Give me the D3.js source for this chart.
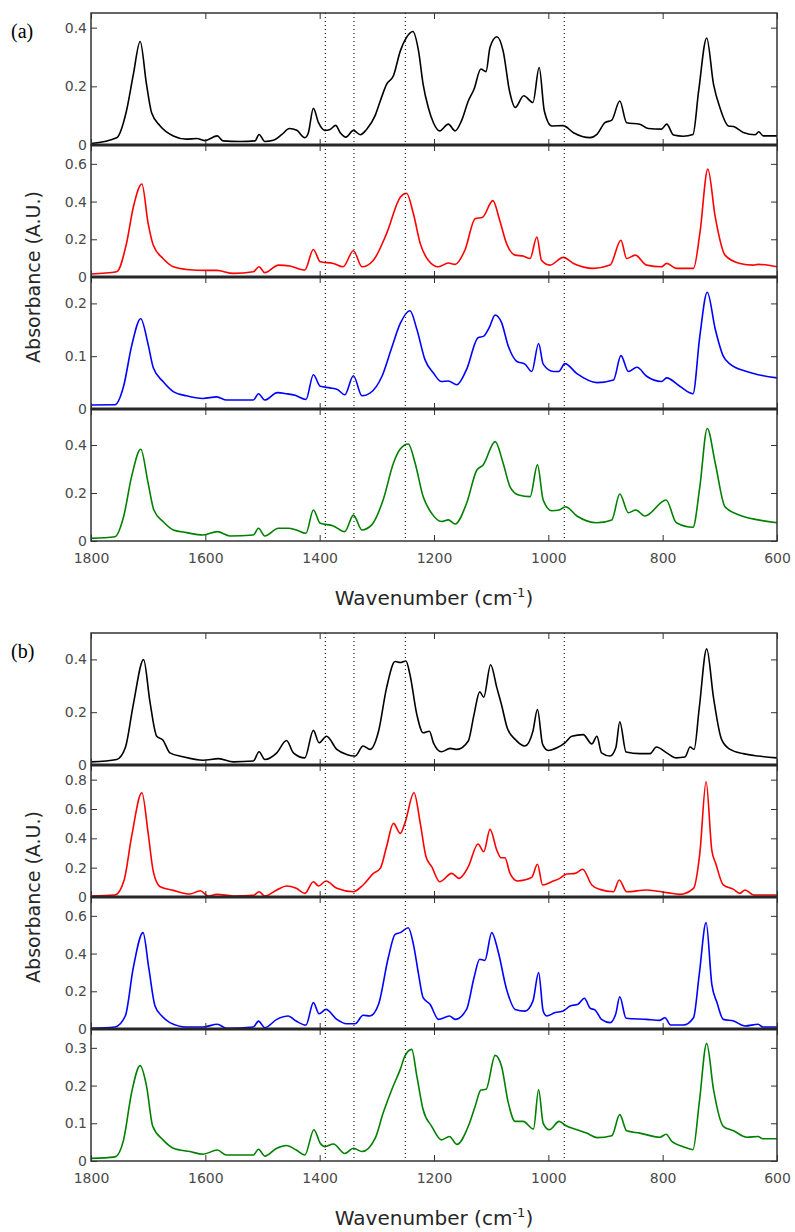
<!DOCTYPE html>
<html>
<head>
<meta charset="utf-8">
<script src="https://cdn.jsdelivr.net/npm/d3@7"></script>
<style>
  body { margin: 0; background: #fff; }
  svg { display: block; }
</style>
</head>
<body>
<script>
// x axis: wavenumber, reversed
const xTicks = [1800, 1600, 1400, 1200, 1000, 800, 600];
const markerLines = [1390, 1340, 1250, 972];
const seriesColors = ["#000000", "#ff0000", "#0000ff", "#008000"];

// panel (a) spectra, [wavenumber, absorbance]
const a1 = [[1800,0.005],[1755,0.025],[1738,0.116],[1726,0.24],[1714,0.353],[1703,0.208],[1694,0.11],[1679,0.065],[1656,0.031],[1633,0.02],[1615,0.022],[1601,0.015],[1579,0.031],[1569,0.014],[1539,0.012],[1513,0.014],[1506,0.036],[1496,0.012],[1481,0.016],[1466,0.036],[1453,0.056],[1440,0.05],[1426,0.025],[1420,0.04],[1411,0.125],[1402,0.076],[1391,0.05],[1382,0.053],[1372,0.067],[1364,0.042],[1354,0.027],[1341,0.05],[1329,0.035],[1318,0.053],[1303,0.1],[1294,0.15],[1283,0.207],[1271,0.236],[1259,0.32],[1248,0.367],[1237,0.387],[1227,0.32],[1219,0.207],[1210,0.128],[1201,0.076],[1190,0.048],[1175,0.071],[1163,0.048],[1152,0.082],[1140,0.15],[1130,0.19],[1118,0.259],[1109,0.25],[1102,0.333],[1090,0.369],[1079,0.32],[1068,0.185],[1058,0.128],[1043,0.168],[1027,0.145],[1016,0.264],[1007,0.116],[994,0.065],[974,0.066],[956,0.042],[927,0.025],[915,0.036],[901,0.076],[889,0.085],[875,0.15],[863,0.076],[840,0.071],[825,0.056],[802,0.054],[793,0.071],[781,0.034],[764,0.03],[747,0.036],[737,0.185],[723,0.365],[711,0.207],[700,0.128],[685,0.065],[676,0.063],[659,0.043],[638,0.035],[632,0.045],[624,0.031],[600,0.031]];
const a2 = [[1800,0.016],[1755,0.028],[1738,0.177],[1726,0.37],[1711,0.493],[1700,0.283],[1691,0.168],[1674,0.098],[1656,0.054],[1633,0.04],[1598,0.035],[1580,0.035],[1551,0.019],[1516,0.028],[1506,0.054],[1496,0.023],[1472,0.063],[1452,0.058],[1426,0.037],[1411,0.146],[1399,0.081],[1376,0.072],[1359,0.054],[1341,0.139],[1326,0.054],[1306,0.089],[1283,0.23],[1259,0.423],[1248,0.444],[1236,0.335],[1224,0.177],[1210,0.089],[1192,0.054],[1175,0.074],[1163,0.067],[1146,0.142],[1128,0.309],[1115,0.317],[1097,0.405],[1085,0.3],[1073,0.177],[1058,0.116],[1044,0.111],[1032,0.098],[1020,0.212],[1012,0.089],[997,0.063],[974,0.104],[956,0.072],[921,0.046],[892,0.063],[873,0.195],[863,0.098],[848,0.116],[828,0.063],[802,0.054],[793,0.072],[776,0.046],[746,0.046],[735,0.23],[721,0.572],[708,0.317],[691,0.116],[665,0.072],[641,0.063],[633,0.067],[600,0.054]];
const a3 = [[1800,0.0076],[1758,0.008],[1743,0.043],[1729,0.119],[1713,0.171],[1700,0.122],[1691,0.078],[1674,0.052],[1656,0.033],[1633,0.025],[1604,0.02],[1580,0.023],[1563,0.017],[1516,0.017],[1507,0.029],[1496,0.017],[1474,0.031],[1458,0.029],[1443,0.026],[1424,0.018],[1411,0.065],[1399,0.043],[1382,0.04],[1369,0.037],[1356,0.027],[1341,0.063],[1326,0.025],[1312,0.03],[1291,0.062],[1274,0.116],[1259,0.162],[1242,0.186],[1230,0.151],[1216,0.094],[1201,0.068],[1187,0.052],[1175,0.053],[1160,0.046],[1143,0.075],[1123,0.135],[1113,0.138],[1103,0.155],[1093,0.178],[1082,0.164],[1070,0.119],[1055,0.09],[1041,0.085],[1029,0.071],[1017,0.124],[1009,0.085],[991,0.071],[982,0.071],[971,0.086],[950,0.067],[915,0.05],[886,0.055],[873,0.101],[860,0.071],[845,0.079],[828,0.062],[802,0.052],[793,0.059],[770,0.043],[747,0.029],[735,0.138],[722,0.221],[708,0.151],[694,0.1],[682,0.085],[653,0.071],[633,0.065],[600,0.059]];
const a4 = [[1800,0.011],[1758,0.018],[1743,0.101],[1729,0.268],[1713,0.382],[1700,0.24],[1690,0.129],[1674,0.081],[1656,0.046],[1633,0.035],[1604,0.025],[1579,0.039],[1557,0.021],[1516,0.025],[1507,0.053],[1496,0.021],[1472,0.053],[1455,0.053],[1441,0.046],[1424,0.032],[1411,0.129],[1399,0.074],[1376,0.063],[1356,0.039],[1341,0.108],[1326,0.046],[1309,0.067],[1289,0.171],[1271,0.324],[1259,0.383],[1245,0.404],[1233,0.324],[1219,0.185],[1204,0.115],[1187,0.081],[1175,0.088],[1163,0.071],[1143,0.157],[1125,0.296],[1114,0.317],[1093,0.414],[1079,0.324],[1067,0.226],[1052,0.192],[1032,0.185],[1019,0.317],[1009,0.171],[994,0.126],[981,0.129],[970,0.143],[950,0.104],[915,0.076],[889,0.088],[875,0.196],[860,0.118],[847,0.129],[831,0.104],[794,0.171],[776,0.076],[747,0.057],[735,0.226],[722,0.469],[708,0.324],[691,0.143],[665,0.107],[633,0.088],[600,0.076]];

// panel (b) spectra
const b1 = [[1800,0.012],[1755,0.021],[1740,0.065],[1726,0.229],[1708,0.399],[1697,0.241],[1685,0.109],[1674,0.094],[1662,0.046],[1639,0.031],[1604,0.018],[1577,0.024],[1551,0.012],[1516,0.015],[1506,0.05],[1496,0.021],[1475,0.046],[1458,0.093],[1446,0.046],[1426,0.027],[1411,0.131],[1401,0.084],[1388,0.109],[1370,0.059],[1353,0.04],[1338,0.034],[1324,0.072],[1312,0.059],[1297,0.128],[1283,0.292],[1268,0.392],[1259,0.388],[1249,0.394],[1242,0.342],[1230,0.191],[1219,0.122],[1208,0.128],[1201,0.084],[1187,0.05],[1172,0.063],[1160,0.059],[1140,0.091],[1130,0.191],[1120,0.277],[1113,0.257],[1101,0.38],[1090,0.292],[1082,0.229],[1072,0.141],[1058,0.097],[1041,0.072],[1027,0.128],[1019,0.21],[1010,0.078],[1000,0.055],[985,0.065],[971,0.084],[959,0.109],[939,0.115],[924,0.08],[915,0.109],[907,0.046],[892,0.034],[882,0.065],[875,0.164],[864,0.049],[840,0.043],[822,0.043],[811,0.068],[793,0.046],[776,0.027],[761,0.03],[752,0.068],[745,0.059],[736,0.216],[723,0.44],[711,0.254],[697,0.097],[682,0.059],[659,0.043],[633,0.034],[600,0.027]];
const b2 = [[1800,0.007],[1758,0.014],[1742,0.116],[1729,0.411],[1711,0.711],[1700,0.434],[1691,0.173],[1679,0.07],[1656,0.045],[1627,0.02],[1609,0.043],[1595,0.007],[1580,0.018],[1551,0.007],[1516,0.011],[1506,0.036],[1496,0.007],[1475,0.048],[1458,0.075],[1441,0.059],[1426,0.025],[1411,0.104],[1402,0.075],[1389,0.109],[1370,0.059],[1341,0.036],[1324,0.082],[1306,0.161],[1294,0.195],[1283,0.343],[1271,0.502],[1259,0.434],[1251,0.502],[1235,0.711],[1224,0.502],[1214,0.275],[1204,0.207],[1190,0.104],[1169,0.161],[1156,0.127],[1140,0.207],[1123,0.361],[1113,0.309],[1102,0.461],[1090,0.318],[1083,0.268],[1076,0.268],[1067,0.161],[1054,0.109],[1029,0.134],[1019,0.223],[1010,0.082],[994,0.104],[980,0.127],[968,0.157],[953,0.161],[940,0.189],[924,0.082],[910,0.052],[886,0.036],[876,0.116],[863,0.036],[828,0.048],[793,0.03],[770,0.018],[746,0.059],[735,0.298],[724,0.786],[714,0.318],[707,0.227],[694,0.082],[676,0.052],[665,0.025],[656,0.048],[641,0.014],[600,0.014]];
const b3 = [[1800,0.004],[1758,0.011],[1740,0.069],[1726,0.325],[1709,0.511],[1699,0.325],[1688,0.122],[1676,0.069],[1662,0.034],[1633,0.011],[1604,0.011],[1579,0.025],[1563,0.004],[1516,0.011],[1507,0.042],[1496,0.007],[1475,0.051],[1455,0.069],[1441,0.042],[1424,0.021],[1411,0.14],[1401,0.081],[1389,0.104],[1370,0.051],[1353,0.028],[1338,0.028],[1324,0.073],[1312,0.069],[1297,0.131],[1280,0.378],[1268,0.502],[1259,0.511],[1245,0.537],[1236,0.449],[1227,0.29],[1219,0.166],[1207,0.131],[1192,0.051],[1173,0.069],[1163,0.051],[1143,0.104],[1130,0.272],[1120,0.37],[1111,0.364],[1099,0.511],[1088,0.414],[1073,0.21],[1058,0.104],[1041,0.095],[1027,0.148],[1017,0.299],[1009,0.095],[1003,0.069],[988,0.087],[974,0.095],[962,0.122],[948,0.131],[937,0.163],[927,0.111],[918,0.1],[907,0.051],[892,0.034],[882,0.081],[875,0.171],[864,0.057],[828,0.051],[805,0.046],[796,0.06],[786,0.021],[764,0.021],[746,0.06],[736,0.29],[724,0.564],[714,0.237],[705,0.14],[694,0.051],[676,0.042],[656,0.016],[633,0.025],[625,0.011],[600,0.011]];
const b4 = [[1800,0.007],[1758,0.011],[1743,0.056],[1729,0.181],[1714,0.253],[1703,0.2],[1692,0.092],[1674,0.056],[1656,0.034],[1627,0.025],[1604,0.018],[1579,0.029],[1563,0.016],[1516,0.016],[1507,0.031],[1496,0.013],[1475,0.034],[1458,0.041],[1441,0.029],[1426,0.016],[1410,0.083],[1399,0.047],[1391,0.038],[1376,0.045],[1356,0.02],[1341,0.034],[1326,0.025],[1303,0.06],[1289,0.127],[1271,0.2],[1259,0.243],[1251,0.278],[1239,0.296],[1230,0.225],[1219,0.136],[1204,0.092],[1187,0.056],[1173,0.065],[1160,0.044],[1140,0.092],[1128,0.145],[1118,0.188],[1109,0.19],[1093,0.28],[1082,0.252],[1070,0.154],[1058,0.105],[1044,0.105],[1026,0.085],[1017,0.189],[1009,0.1],[998,0.083],[981,0.105],[970,0.094],[950,0.083],[933,0.074],[915,0.062],[889,0.067],[875,0.123],[863,0.08],[840,0.074],[805,0.063],[794,0.071],[784,0.052],[764,0.038],[747,0.03],[736,0.154],[723,0.312],[711,0.189],[694,0.092],[676,0.08],[653,0.063],[633,0.065],[625,0.059],[600,0.059]];

// y ranges and tick labels for each subplot
const yMaxA = [0.45, 0.7, 0.25, 0.55];
const yTicksA = [[0, 0.2, 0.4], [0, 0.2, 0.4, 0.6], [0, 0.1, 0.2], [0, 0.2, 0.4]];
const yMaxB = [0.5, 0.9, 0.7, 0.35];
const yTicksB = [[0, 0.2, 0.4], [0, 0.2, 0.4, 0.6, 0.8], [0, 0.2, 0.4, 0.6], [0, 0.1, 0.2, 0.3]];

const W = 795, H = 1232;
const plotLeft = 91, plotRight = 777, subH = 132, tick = 6;
const sans = "'DejaVu Sans', sans-serif";

const svg = d3.select("body").append("svg")
    .attr("width", W)
    .attr("height", H);

const x = d3.scaleLinear().domain([1800, 600]).range([plotLeft, plotRight]);
const line = d3.line().curve(d3.curveMonotoneX);

const panels = [
    {label: "(a)", top: 13, series: [a1, a2, a3, a4], yMax: yMaxA, yTicks: yTicksA},
    {label: "(b)", top: 633, series: [b1, b2, b3, b4], yMax: yMaxB, yTicks: yTicksB}
];

function styleAxis(ax) {
    ax.select(".domain").remove();
    ax.selectAll(".tick line").attr("stroke", "#333").attr("stroke-width", 1);
    ax.selectAll(".tick text")
        .attr("fill", "#4a4a4a")
        .style("font-family", sans)
        .style("font-size", "14px");
}

panels.forEach(p => {
    const g = svg.append("g");
    const bottom = p.top + 4 * subH;

    p.series.forEach((data, i) => {
        const y0 = p.top + i * subH;
        const y = d3.scaleLinear().domain([0, p.yMax[i]]).range([y0 + subH, y0]);

        g.append("path")
            .datum(data)
            .attr("fill", "none")
            .attr("stroke", seriesColors[i])
            .attr("stroke-width", 1.6)
            .attr("stroke-linejoin", "round")
            .attr("d", line.x(d => x(d[0])).y(d => y(d[1])));

        g.append("g")
            .attr("transform", `translate(${plotLeft},0)`)
            .call(d3.axisLeft(y).tickValues(p.yTicks[i]).tickSizeInner(-tick).tickSizeOuter(0)
                .tickPadding(4).tickFormat(d => String(d)))
            .call(styleAxis);

        g.append("g")
            .attr("transform", `translate(${plotRight},0)`)
            .call(d3.axisRight(y).tickValues(p.yTicks[i]).tickSizeInner(-tick).tickSizeOuter(0).tickFormat(""))
            .call(styleAxis);

        g.append("g")
            .attr("transform", `translate(0,${y0})`)
            .call(d3.axisTop(x).tickValues(xTicks).tickSizeInner(-tick).tickSizeOuter(0).tickFormat(""))
            .call(styleAxis);

        const last = i === 3;
        g.append("g")
            .attr("transform", `translate(0,${y0 + subH})`)
            .call(d3.axisBottom(x).tickValues(xTicks).tickSizeInner(-tick).tickSizeOuter(0)
                .tickPadding(12).tickFormat(last ? d => String(d) : ""))
            .call(styleAxis);

        g.append("rect")
            .attr("x", plotLeft).attr("y", y0)
            .attr("width", plotRight - plotLeft).attr("height", subH)
            .attr("fill", "none")
            .attr("stroke", "#333")
            .attr("stroke-width", 1.5);
    });

    // thick dividers between stacked subplots
    g.selectAll(".divider")
        .data([1, 2, 3])
        .join("line")
        .attr("x1", plotLeft).attr("x2", plotRight)
        .attr("y1", i => p.top + i * subH).attr("y2", i => p.top + i * subH)
        .attr("stroke", "#262626")
        .attr("stroke-width", 3);

    // dotted marker lines
    g.selectAll(".marker")
        .data(markerLines)
        .join("line")
        .attr("x1", d => x(d)).attr("x2", d => x(d))
        .attr("y1", p.top).attr("y2", bottom)
        .attr("stroke", "#222")
        .attr("stroke-width", 1.2)
        .attr("stroke-dasharray", "1,3");

    g.append("text")
        .attr("x", 11).attr("y", p.top + 25)
        .style("font-family", "'Liberation Serif', serif")
        .style("font-size", "20px")
        .attr("fill", "#000")
        .text(p.label);

    g.append("text")
        .attr("transform", `translate(40,${(p.top + bottom) / 2}) rotate(-90)`)
        .attr("text-anchor", "middle")
        .style("font-family", sans)
        .style("font-size", "19px")
        .attr("fill", "#262626")
        .text("Absorbance (A.U.)");

    const xt = g.append("text")
        .attr("x", (plotLeft + plotRight) / 2)
        .attr("y", bottom + 64)
        .attr("text-anchor", "middle")
        .style("font-family", sans)
        .style("font-size", "20px")
        .attr("fill", "#262626");
    xt.append("tspan").text("Wavenumber (cm");
    xt.append("tspan").attr("dy", -8).style("font-size", "13px").text("-1");
    xt.append("tspan").attr("dy", 8).text(")");
});
</script>
</body>
</html>
